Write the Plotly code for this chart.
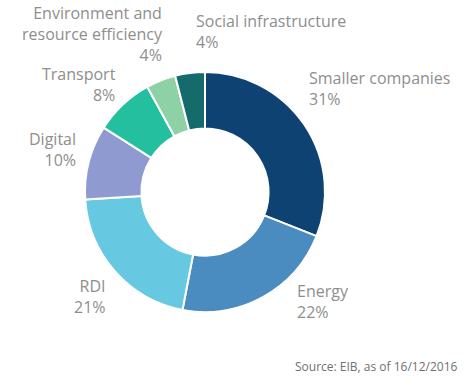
import plotly.graph_objects as go

categories = ["Smaller companies", "Energy", "RDI", "Digital", "Transport",
              "Environment and<br>resource efficiency", "Social infrastructure"]
values = [31, 22, 21, 10, 8, 4, 4]
colors = ["#0e4273", "#4a8cc0", "#66c9e1", "#8f9bd0", "#24bf9f", "#8ed1a4", "#156a6b"]

W, H = 470, 391


def fx(px):
    return px / W


def fy(py):
    return 1 - py / H


fig = go.Figure(go.Pie(
    labels=categories, values=values, sort=False, direction="clockwise",
    rotation=0, hole=0.53, textinfo="none", hoverinfo="label+percent",
    marker=dict(colors=colors, line=dict(color="white", width=2)),
    domain=dict(x=[fx(85), fx(325)], y=[fy(312), fy(72)]),
    showlegend=False,
))

# label placement (pixel positions in window: x, cap-top y, alignment)
label_pos = [
    (307, 72, "left"),
    (295, 285, "left"),
    (108, 280, "right"),
    (78, 133, "right"),
    (118, 68, "right"),
    (165, 7, "right"),
    (194, 15, "left"),
]
gray = "#8e8e8e"
for cat, val, (px, py, al) in zip(categories, values, label_pos):
    fig.add_annotation(
        x=fx(px), y=fy(py - 7), xref="paper", yref="paper",
        text=f"{cat}<br>{val}%", showarrow=False, align=al,
        xanchor=al, yanchor="top",
        font=dict(family="Open Sans", size=16, color=gray),
    )

fig.add_annotation(
    x=fx(460), y=fy(366), xref="paper", yref="paper",
    text="Source: EIB, as of 16/12/2016", showarrow=False,
    xanchor="right", yanchor="middle",
    font=dict(family="Open Sans", size=12, color="#707070"),
)

fig.update_layout(
    width=W, height=H, margin=dict(l=0, r=0, t=0, b=0),
    paper_bgcolor="white", plot_bgcolor="white",
)

fig.write_html("out.html", config={"displayModeBar": False},
               post_script="document.body.style.margin='0px';document.body.style.overflow='hidden';")
